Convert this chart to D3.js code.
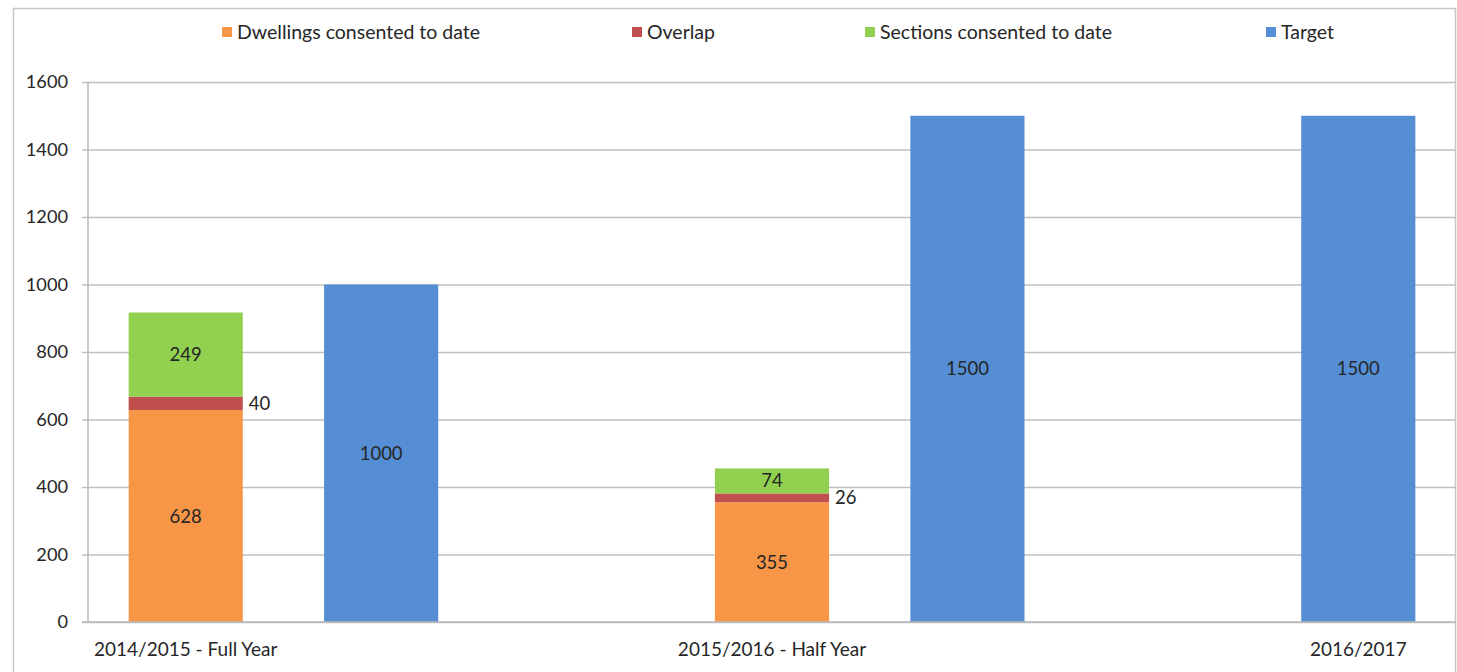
<!DOCTYPE html>
<html>
<head>
<meta charset="utf-8">
<script src="https://cdn.jsdelivr.net/npm/d3@7"></script>
<style>
  html, body { margin: 0; padding: 0; background: #ffffff; }
  svg { display: block; }
  text { font-family: Lato, "Open Sans", sans-serif; fill: #262626; }
</style>
</head>
<body>
<div id="chart"></div>
<script>
// Category slots along the x axis (blank slots hold target bars / spacing)
const categories = ["2014/2015 - Full Year", "", "", "2015/2016 - Half Year", "", "", "2016/2017"];

// Stacked consent figures per slot
const dwellings = [628, null, null, 355, null, null, null];
const overlap   = [40,  null, null, 26,  null, null, null];
const sections  = [249, null, null, 74,  null, null, null];

// Target bars per slot
const target = [null, 1000, null, null, 1500, null, 1500];

const yTicks = [0, 200, 400, 600, 800, 1000, 1200, 1400, 1600];

const seriesNames = ["Dwellings consented to date", "Overlap", "Sections consented to date", "Target"];
const seriesColors = ["#F79646", "#C0504D", "#92D050", "#558ED5"];

const width = 1457, height = 672;
const margin = { left: 88, right: 1, top: 82, bottom: 50 };

const svg = d3.select("#chart").append("svg")
  .attr("width", width).attr("height", height);

// Outer chart frame
svg.append("rect")
  .attr("x", 13.5).attr("y", 8.5)
  .attr("width", 1442).attr("height", 680)
  .attr("fill", "none").attr("stroke", "#c6c6c6").attr("stroke-width", 1.5);

const x = d3.scaleBand()
  .domain(d3.range(categories.length))
  .range([margin.left, width - margin.right])
  .paddingInner(0.416)
  .paddingOuter(0.208);

const y = d3.scaleLinear()
  .domain([0, 1600])
  .range([height - margin.bottom, margin.top]);

// Gridlines with short outward ticks
const grid = svg.append("g")
  .attr("transform", `translate(${margin.left},0)`)
  .call(d3.axisLeft(y).tickValues(yTicks).tickSize(-(width - margin.right - margin.left)).tickFormat(""));
grid.select(".domain").remove();
grid.selectAll(".tick line")
  .attr("x1", -6)
  .attr("stroke", "#c0c0c0").attr("stroke-width", 1.5);

// Y axis line
svg.append("line")
  .attr("x1", margin.left).attr("x2", margin.left)
  .attr("y1", y(1600)).attr("y2", y(0))
  .attr("stroke", "#b8b8b8").attr("stroke-width", 1.5);

// Y tick labels
svg.append("g").selectAll("text")
  .data(yTicks).join("text")
  .attr("x", 68).attr("y", d => y(d))
  .attr("dy", "0.35em")
  .attr("text-anchor", "end")
  .attr("font-size", 18.2)
  .text(d => d);

// Stacked bars
const stackRows = d3.range(categories.length)
  .filter(i => dwellings[i] != null)
  .map(i => ({ i, d: dwellings[i], o: overlap[i], s: sections[i] }));
const stack = d3.stack().keys(["d", "o", "s"])(stackRows);

const bars = svg.append("g");
stack.forEach((layer, k) => {
  bars.selectAll(null)
    .data(layer).join("rect")
    .attr("x", p => x(p.data.i))
    .attr("width", x.bandwidth())
    .attr("y", p => y(p[1]))
    .attr("height", p => y(p[0]) - y(p[1]))
    .attr("fill", seriesColors[k]);
});

// Target bars
const targetRows = d3.range(categories.length).filter(i => target[i] != null).map(i => ({ i, v: target[i] }));
bars.selectAll(null)
  .data(targetRows).join("rect")
  .attr("x", p => x(p.i))
  .attr("width", x.bandwidth())
  .attr("y", p => y(p.v))
  .attr("height", p => y(0) - y(p.v))
  .attr("fill", seriesColors[3]);

// X baseline
svg.append("line")
  .attr("x1", margin.left - 6).attr("x2", width - margin.right)
  .attr("y1", y(0)).attr("y2", y(0))
  .attr("stroke", "#b8b8b8").attr("stroke-width", 1.5);

// Value labels
const labels = svg.append("g").attr("font-size", 18.5);
stack.forEach((layer, k) => {
  layer.forEach(p => {
    const v = p[1] - p[0];
    const cy = (y(p[0]) + y(p[1])) / 2;
    if (k === 1) {
      labels.append("text")
        .attr("x", x(p.data.i) + x.bandwidth() + 6)
        .attr("y", cy).attr("dy", "0.35em")
        .text(v);
    } else {
      labels.append("text")
        .attr("x", x(p.data.i) + x.bandwidth() / 2)
        .attr("y", cy).attr("dy", "0.35em")
        .attr("text-anchor", "middle")
        .text(v);
    }
  });
});
targetRows.forEach(p => {
  labels.append("text")
    .attr("x", x(p.i) + x.bandwidth() / 2)
    .attr("y", (y(0) + y(p.v)) / 2).attr("dy", "0.35em")
    .attr("text-anchor", "middle")
    .text(p.v);
});

// Category labels
svg.append("g").selectAll("text")
  .data(d3.range(categories.length)).join("text")
  .attr("x", i => x(i) + x.bandwidth() / 2)
  .attr("y", 649).attr("dy", "0.35em")
  .attr("text-anchor", "middle")
  .attr("font-size", 19)
  .text(i => categories[i]);

// Legend
const legendX = [222, 632, 865, 1266];
const legend = svg.append("g");
seriesNames.forEach((name, k) => {
  legend.append("rect")
    .attr("x", legendX[k]).attr("y", 27)
    .attr("width", 10).attr("height", 10)
    .attr("fill", seriesColors[k]);
  legend.append("text")
    .attr("x", legendX[k] + 15).attr("y", 32).attr("dy", "0.35em")
    .attr("font-size", 19.5)
    .text(name);
});
</script>
</body>
</html>
